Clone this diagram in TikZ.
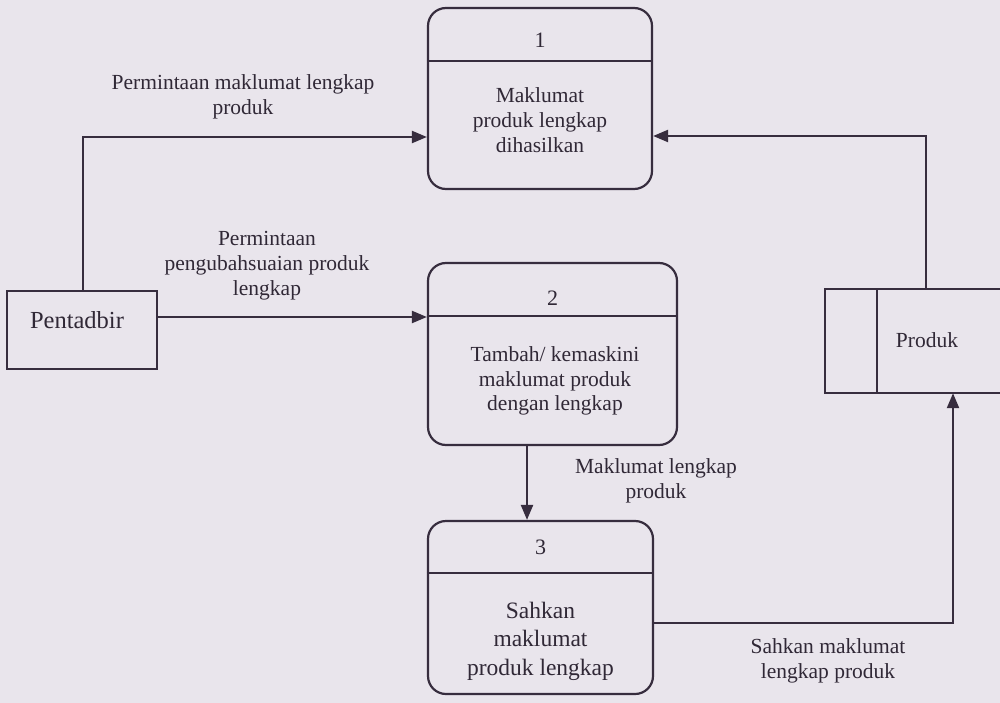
\documentclass[tikz,border=0pt]{standalone}
\usepackage{fontspec}
\setmainfont{Liberation Serif}
\usetikzlibrary{arrows.meta}
\definecolor{bg}{RGB}{233,229,236}
\definecolor{ink}{RGB}{55,45,62}
\definecolor{txt}{RGB}{48,40,54}
\tikzset{
  line/.style={draw=ink, line width=2.2pt},
  arr/.style={line, -{Triangle[length=15pt,width=12pt]}},
  proc/.style={line, rectangle, rounded corners=18pt, inner sep=0pt},
  ent/.style={line, rectangle, inner sep=0pt},
  lbl/.style={text=txt, align=center, font=\fontsize{21.5}{25}\selectfont, inner sep=0pt},
  ptxt/.style={text=txt, align=center, font=\fontsize{21.5}{24.8}\selectfont, inner sep=0pt},
  ptxtb/.style={text=txt, align=center, font=\fontsize{23.5}{28.5}\selectfont, inner sep=0pt},
  num/.style={text=txt, font=\fontsize{22}{24}\selectfont, inner sep=0pt}
}
\begin{document}
\begin{tikzpicture}[x=1pt,y=-1pt]
\useasboundingbox (0,0) rectangle (1000,703);
\fill[bg] (0,0) rectangle (1000,703);

% processes
\node[proc, minimum width=224pt, minimum height=181pt] (p1) at (540,98.5) {};
\node[proc, minimum width=249pt, minimum height=182pt] (p2) at (552.5,354) {};
\node[proc, minimum width=225pt, minimum height=173pt] (p3) at (540.5,607.5) {};

\coordinate (d1) at (0,61);
\coordinate (d2) at (0,316);
\coordinate (d3) at (0,573);
\draw[line] (d1 -| p1.west) -- (d1 -| p1.east);
\draw[line] (d2 -| p2.west) -- (d2 -| p2.east);
\draw[line] (d3 -| p3.west) -- (d3 -| p3.east);

\node[num] (n1) at (540,40) {1};
\node[num] (n2) at (552.5,298) {2};
\node[num] (n3) at (540.5,547) {3};

\node[ptxt] (t1) at (540,120) {Maklumat\\produk lengkap\\dihasilkan};
\node[ptxt] (t2) at (555,381) {Tambah/ kemaskini\\maklumat produk\\dengan lengkap};
\node[ptxtb] (t3) at (540.5,641) {Sahkan\\maklumat\\produk lengkap};

% external entity
\node[ent, minimum width=150pt, minimum height=78pt] (pent) at (82,330) {};
\node[text=txt, font=\fontsize{24.5}{28}\selectfont, inner sep=0pt] (pentt) at (77,320) {Pentadbir};

% data store (open on the right)
\node[inner sep=0pt, minimum width=175pt, minimum height=104pt] (prod) at (912.5,341) {};
\draw[line] (prod.north east) -- (prod.north west) -- (prod.south west) -- (prod.south east);
\coordinate (sd) at (877,0);
\draw[line] (sd |- prod.north) -- (sd |- prod.south);
\node[lbl] (prodt) at (927,340) {Produk};

% flows
\coordinate (c1) at (83,137);
\draw[arr] (c1 |- pent.north) -- (c1) -- (c1 -| p1.west);
\coordinate (c2) at (0,317);
\draw[arr] (c2 -| pent.east) -- (c2 -| p2.west);
\coordinate (c3) at (926,136);
\draw[arr] (c3 |- prod.north) -- (c3) -- (c3 -| p1.east);
\coordinate (c5) at (527,0);
\draw[arr] (c5 |- p2.south) -- (c5 |- p3.north);
\coordinate (c4) at (953,623);
\draw[arr] (c4 -| p3.east) -- (c4) -- (c4 |- prod.south);

% labels
\node[lbl] (l1) at (243,97) {Permintaan maklumat lengkap\\produk};
\node[lbl] (l2) at (267,266) {Permintaan\\pengubahsuaian produk\\lengkap};
\node[lbl] (l3) at (656,481) {Maklumat lengkap\\produk};
\node[lbl] (l4) at (828,661) {Sahkan maklumat\\lengkap produk};
\end{tikzpicture}
\end{document}
